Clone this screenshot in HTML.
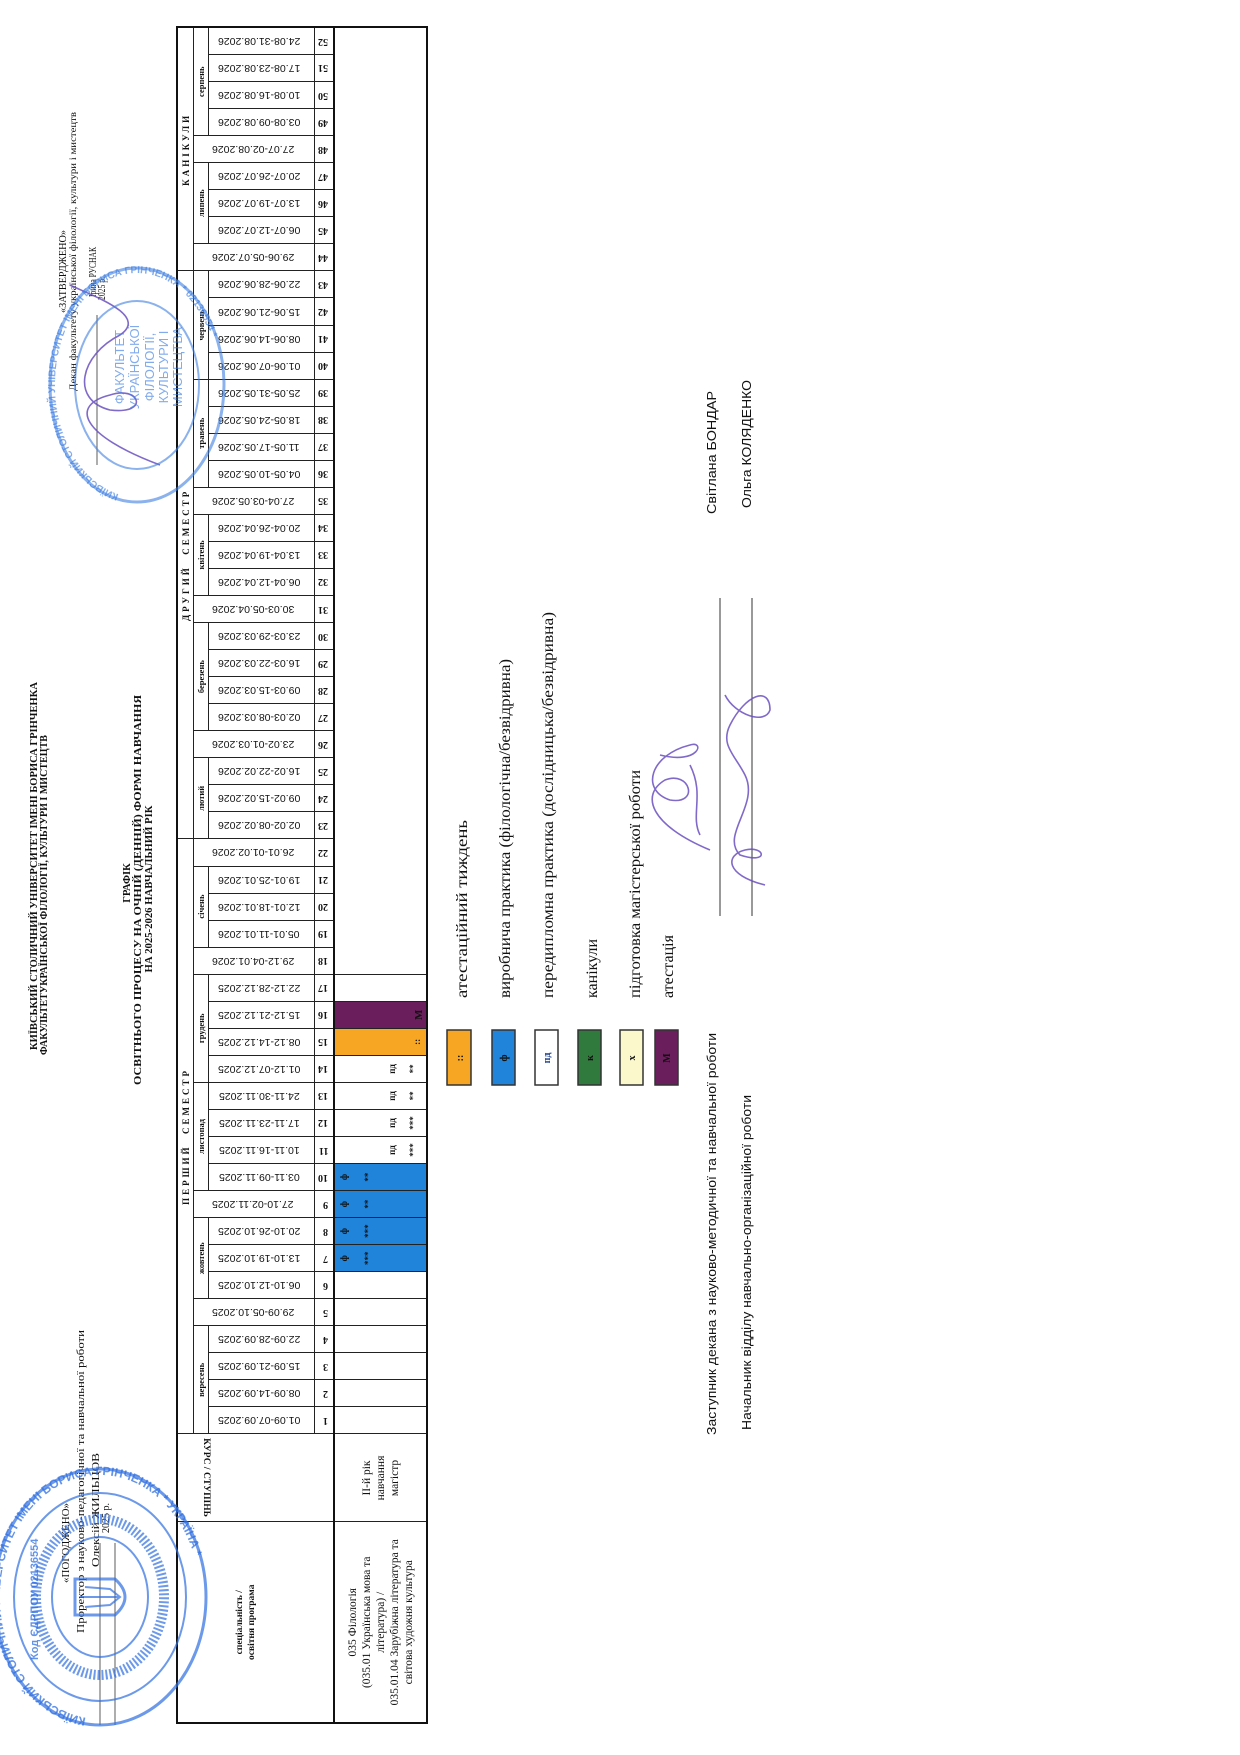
<!DOCTYPE html>
<html><head><meta charset="utf-8">
<style>
html,body{margin:0;padding:0;background:#fff;}
body{width:1240px;height:1755px;overflow:hidden;position:relative;}
#L{position:absolute;left:0;top:0;width:1755px;height:1240px;transform-origin:0 0;transform:translate(0,1755px) rotate(-90deg);}
table{position:absolute;left:31px;top:176px;width:1696px;border-collapse:collapse;table-layout:fixed;border:2px solid #111;font-family:"Liberation Serif",serif;color:#111;}
td{border:1px solid #222;padding:0;text-align:center;vertical-align:middle;overflow:hidden;white-space:nowrap;}
tr.r1 td{height:15px;font-weight:bold;font-size:9px;letter-spacing:3px;}
tr.r2 td{height:14px;font-weight:bold;font-size:8.5px;}
tr.r3 td{height:105px;}
tr.r4 td{height:16px;}
tr.r5 td{height:91px;position:relative;border-top:2px solid #111;}
.v{display:inline-block;writing-mode:vertical-rl;transform:rotate(180deg);font-family:"Liberation Sans",sans-serif;font-size:10.5px;font-weight:normal;letter-spacing:0;}
.n{display:inline-block;writing-mode:vertical-rl;transform:rotate(180deg);font-weight:bold;font-size:10px;}
.b{background:#1f84da;}
.o{background:#f6a623;}
.p{background:#6a1e5c;}
td i{position:absolute;left:0;right:0;font-style:normal;font-size:9px;font-weight:bold;line-height:12px;color:#111;}
.hdr{font-weight:bold;font-size:9.5px;line-height:12px;letter-spacing:0;}
.dat{font-size:11.5px;line-height:14px;}
</style></head>
<body>
<div id="L">
<table>
<colgroup><col style="width:201px"><col style="width:88px">
<col span="52" style="width:27.0577px">
</colgroup>
<tr class="r1">
<td rowspan="4" style="vertical-align:middle"><div class="hdr" style="margin-top:-20px">спеціальність /<br>освітня програма</div></td>
<td rowspan="4" style="vertical-align:top"><div class="hdr" style="transform:rotate(180deg);margin-top:22px">КУРС / СТУПІНЬ</div></td>
<td colspan="22">ПЕРШИЙ &nbsp;СЕМЕСТР</td>
<td colspan="21">ДРУГИЙ &nbsp;СЕМЕСТР</td>
<td colspan="9">КАНІКУЛИ</td>
</tr>
<tr class="r2">
<td colspan="4">вересень</td>
<td rowspan="2"><span class="v">29.09-05.10.2025</span></td>
<td colspan="3">жовтень</td>
<td rowspan="2"><span class="v">27.10-02.11.2025</span></td>
<td colspan="4">листопад</td>
<td colspan="4">грудень</td>
<td rowspan="2"><span class="v">29.12-04.01.2026</span></td>
<td colspan="3">січень</td>
<td rowspan="2"><span class="v">26.01-01.02.2026</span></td>
<td colspan="3">лютий</td>
<td rowspan="2"><span class="v">23.02-01.03.2026</span></td>
<td colspan="4">березень</td>
<td rowspan="2"><span class="v">30.03-05.04.2026</span></td>
<td colspan="3">квітень</td>
<td rowspan="2"><span class="v">27.04-03.05.2026</span></td>
<td colspan="4">травень</td>
<td colspan="4">червень</td>
<td rowspan="2"><span class="v">29.06-05.07.2026</span></td>
<td colspan="3">липень</td>
<td rowspan="2"><span class="v">27.07-02.08.2026</span></td>
<td colspan="4">серпень</td>
</tr>
<tr class="r3">
<td><span class="v">01.09-07.09.2025</span></td>
<td><span class="v">08.09-14.09.2025</span></td>
<td><span class="v">15.09-21.09.2025</span></td>
<td><span class="v">22.09-28.09.2025</span></td>
<td><span class="v">06.10-12.10.2025</span></td>
<td><span class="v">13.10-19.10.2025</span></td>
<td><span class="v">20.10-26.10.2025</span></td>
<td><span class="v">03.11-09.11.2025</span></td>
<td><span class="v">10.11-16.11.2025</span></td>
<td><span class="v">17.11-23.11.2025</span></td>
<td><span class="v">24.11-30.11.2025</span></td>
<td><span class="v">01.12-07.12.2025</span></td>
<td><span class="v">08.12-14.12.2025</span></td>
<td><span class="v">15.12-21.12.2025</span></td>
<td><span class="v">22.12-28.12.2025</span></td>
<td><span class="v">05.01-11.01.2026</span></td>
<td><span class="v">12.01-18.01.2026</span></td>
<td><span class="v">19.01-25.01.2026</span></td>
<td><span class="v">02.02-08.02.2026</span></td>
<td><span class="v">09.02-15.02.2026</span></td>
<td><span class="v">16.02-22.02.2026</span></td>
<td><span class="v">02.03-08.03.2026</span></td>
<td><span class="v">09.03-15.03.2026</span></td>
<td><span class="v">16.03-22.03.2026</span></td>
<td><span class="v">23.03-29.03.2026</span></td>
<td><span class="v">06.04-12.04.2026</span></td>
<td><span class="v">13.04-19.04.2026</span></td>
<td><span class="v">20.04-26.04.2026</span></td>
<td><span class="v">04.05-10.05.2026</span></td>
<td><span class="v">11.05-17.05.2026</span></td>
<td><span class="v">18.05-24.05.2026</span></td>
<td><span class="v">25.05-31.05.2026</span></td>
<td><span class="v">01.06-07.06.2026</span></td>
<td><span class="v">08.06-14.06.2026</span></td>
<td><span class="v">15.06-21.06.2026</span></td>
<td><span class="v">22.06-28.06.2026</span></td>
<td><span class="v">06.07-12.07.2026</span></td>
<td><span class="v">13.07-19.07.2026</span></td>
<td><span class="v">20.07-26.07.2026</span></td>
<td><span class="v">03.08-09.08.2026</span></td>
<td><span class="v">10.08-16.08.2026</span></td>
<td><span class="v">17.08-23.08.2026</span></td>
<td><span class="v">24.08-31.08.2026</span></td>
</tr>
<tr class="r4">
<td><span class="n">1</span></td><td><span class="n">2</span></td><td><span class="n">3</span></td><td><span class="n">4</span></td><td><span class="n">5</span></td><td><span class="n">6</span></td><td><span class="n">7</span></td><td><span class="n">8</span></td><td><span class="n">9</span></td><td><span class="n">10</span></td>
<td><span class="n">11</span></td><td><span class="n">12</span></td><td><span class="n">13</span></td><td><span class="n">14</span></td><td><span class="n">15</span></td><td><span class="n">16</span></td><td><span class="n">17</span></td><td><span class="n">18</span></td><td><span class="n">19</span></td><td><span class="n">20</span></td>
<td><span class="n">21</span></td><td><span class="n">22</span></td><td><span class="n">23</span></td><td><span class="n">24</span></td><td><span class="n">25</span></td><td><span class="n">26</span></td><td><span class="n">27</span></td><td><span class="n">28</span></td><td><span class="n">29</span></td><td><span class="n">30</span></td>
<td><span class="n">31</span></td><td><span class="n">32</span></td><td><span class="n">33</span></td><td><span class="n">34</span></td><td><span class="n">35</span></td><td><span class="n">36</span></td><td><span class="n">37</span></td><td><span class="n">38</span></td><td><span class="n">39</span></td><td><span class="n">40</span></td>
<td><span class="n">41</span></td><td><span class="n">42</span></td><td><span class="n">43</span></td><td><span class="n">44</span></td><td><span class="n">45</span></td><td><span class="n">46</span></td><td><span class="n">47</span></td><td><span class="n">48</span></td><td><span class="n">49</span></td><td><span class="n">50</span></td>
<td><span class="n">51</span></td><td><span class="n">52</span></td>
</tr>
<tr class="r5">
<td><div class="dat">035 Філологія<br>(035.01 Українська мова та<br>література) /<br>035.01.04 Зарубіжна література та<br>світова художня культура</div></td>
<td><div class="dat">ІІ-й рік<br>навчання<br>магістр</div></td>
<td></td><td></td><td></td><td></td><td></td><td></td>
<td class="b"><i style="top:3px">ф</i><i style="top:27px">***</i></td>
<td class="b"><i style="top:3px">ф</i><i style="top:27px">***</i></td>
<td class="b"><i style="top:3px">ф</i><i style="top:27px">**</i></td>
<td class="b"><i style="top:3px">ф</i><i style="top:27px">**</i></td>
<td><i style="top:51px">пд</i><i style="top:72px">***</i></td>
<td><i style="top:51px">пд</i><i style="top:72px">***</i></td>
<td><i style="top:51px">пд</i><i style="top:72px">**</i></td>
<td><i style="top:51px">пд</i><i style="top:72px">**</i></td>
<td class="o"><i style="top:76px">::</i></td>
<td class="p"><i style="top:78px;font-size:11px">М</i></td>
<td></td>
<td colspan="35" style="border-left:1px solid #222"></td>
</tr>
</table>

<svg width="1755" height="1240" style="position:absolute;left:0;top:0" xmlns="http://www.w3.org/2000/svg">
<g font-family="Liberation Serif, serif" fill="#111">
<text x="889" y="37" text-anchor="middle" font-size="10" font-weight="bold" textLength="368" lengthAdjust="spacingAndGlyphs">КИЇВСЬКИЙ  СТОЛИЧНИЙ УНІВЕРСИТЕТ ІМЕНІ  БОРИСА ГРІНЧЕНКА</text>
<text x="860" y="47" text-anchor="middle" font-size="10" font-weight="bold" textLength="320" lengthAdjust="spacingAndGlyphs">ФАКУЛЬТЕТУКРАЇНСЬКОЇ ФІЛОЛОГІЇ, КУЛЬТУРИ І МИСТЕЦТВ</text>
<text x="872" y="130" text-anchor="middle" font-size="10.5" font-weight="bold">ГРАФІК</text>
<text x="865" y="141" text-anchor="middle" font-size="10.5" font-weight="bold" textLength="390" lengthAdjust="spacingAndGlyphs">ОСВІТНЬОГО ПРОЦЕСУ НА ОЧНІЙ (ДЕННІЙ) ФОРМІ НАВЧАННЯ</text>
<text x="866" y="152" text-anchor="middle" font-size="10.5" font-weight="bold" textLength="167" lengthAdjust="spacingAndGlyphs">НА 2025-2026 НАВЧАЛЬНИЙ РІК</text>

<text x="1442" y="66" font-size="10" textLength="83" lengthAdjust="spacingAndGlyphs">«ЗАТВЕРДЖЕНО»</text>
<text x="1364" y="76" font-size="9.5" textLength="279" lengthAdjust="spacingAndGlyphs">Декан факультету української філології, культури і мистецтв</text>
<text x="1458" y="96" font-size="10" textLength="50" lengthAdjust="spacingAndGlyphs">Ірина РУСНАК</text>
<text x="1455" y="105" font-size="10" textLength="23" lengthAdjust="spacingAndGlyphs">2025 р.</text>
<line x1="1290" y1="97" x2="1440" y2="97" stroke="#333" stroke-width="0.8"/>

<text x="172" y="69" font-size="10" textLength="80" lengthAdjust="spacingAndGlyphs">«ПОГОДЖЕНО»</text>
<text x="122" y="84" font-size="10" textLength="303" lengthAdjust="spacingAndGlyphs">Проректор з науково-педагогічної та навчальної роботи</text>
<text x="188" y="99" font-size="10" textLength="114" lengthAdjust="spacingAndGlyphs">Олексій ЖИЛЬЦОВ</text>
<text x="222" y="109" font-size="10" textLength="30" lengthAdjust="spacingAndGlyphs">2025 р.</text>
<line x1="30" y1="100" x2="212" y2="100" stroke="#333" stroke-width="0.8"/>
<line x1="30" y1="115" x2="212" y2="115" stroke="#333" stroke-width="0.8"/>

<g stroke="#333" stroke-width="1.5">
<rect x="670" y="447" width="55" height="24" fill="#f6a623"/>
<rect x="670" y="492" width="55" height="23" fill="#1f84da"/>
<rect x="670" y="535" width="55" height="23" fill="#fff"/>
<rect x="670" y="578" width="55" height="23" fill="#2f7a3c"/>
<rect x="670" y="620" width="55" height="23" fill="#fbf8cc"/>
<rect x="670" y="655" width="55" height="23" fill="#6a1e5c"/>
</g>
<g font-size="10" font-weight="bold" text-anchor="middle">
<text x="697" y="463">::</text>
<text x="697" y="507">ф</text>
<text x="697" y="550" fill="#1a3c8a">пд</text>
<text x="697" y="593">к</text>
<text x="697" y="635">х</text>
<text x="697" y="670">М</text>
</g>
<g font-size="16">
<text x="757" y="467" textLength="178" lengthAdjust="spacingAndGlyphs">атестаційний тиждень</text>
<text x="757" y="510" textLength="339" lengthAdjust="spacingAndGlyphs">виробнича практика (філологічна/безвідривна)</text>
<text x="757" y="553" textLength="386" lengthAdjust="spacingAndGlyphs">передипломна практика (дослідницька/безвідривна)</text>
<text x="757" y="597">канікули</text>
<text x="757" y="640" textLength="228" lengthAdjust="spacingAndGlyphs">підготовка магістерської роботи</text>
<text x="757" y="673">атестація</text>
</g>
</g>

<g font-family="Liberation Sans Narrow, Liberation Sans, sans-serif" font-size="13" fill="#111">
<text x="320" y="716" textLength="402" lengthAdjust="spacingAndGlyphs">Заступник декана з науково-методичної та навчальної роботи</text>
<text x="325" y="751" textLength="335" lengthAdjust="spacingAndGlyphs">Начальник відділу навчально-організаційної роботи</text>
<text x="1241" y="716" textLength="123" lengthAdjust="spacingAndGlyphs">Світлана БОНДАР</text>
<text x="1247" y="751" textLength="128" lengthAdjust="spacingAndGlyphs">Ольга КОЛЯДЕНКО</text>
</g>
<line x1="839" y1="720" x2="1157" y2="720" stroke="#333" stroke-width="1"/>
<line x1="839" y1="752" x2="1157" y2="752" stroke="#333" stroke-width="1"/>

<g fill="none" stroke="#6a50c0" stroke-width="1.6" opacity="0.85">
<path d="M905 710 C930 650 960 640 975 665 C985 690 950 700 955 670 C965 640 1000 650 1010 690 C1015 705 990 700 1000 660 M920 700 C940 690 960 705 990 690"/>
<path d="M870 765 C880 725 900 725 905 745 C910 765 890 770 900 740 C920 720 950 760 980 745 C1000 735 1010 720 1030 730 C1060 745 1070 770 1045 770 C1030 765 1040 735 1060 725"/>
<path d="M1290 160 C1320 80 1350 70 1360 110 C1370 140 1340 150 1345 110 C1355 70 1400 80 1420 120 C1440 150 1460 90 1470 70"/>
</g>

<g fill="none" stroke="#3f7fe2" opacity="0.6">
<ellipse cx="1370" cy="137" rx="117" ry="87" stroke-width="3"/>
<ellipse cx="1370" cy="137" rx="84" ry="62" stroke-width="2"/>
</g>
<defs><path id="ts" d="M1258 137 A112 82 0 1 1 1482 137 A112 82 0 1 1 1258 137"/>
<path id="bs" d="M36 100 A122 100 0 1 1 280 100 A122 100 0 1 1 36 100"/></defs>
<g font-family="Liberation Sans, sans-serif" fill="#3f7fe2" opacity="0.65" font-weight="bold">
<text font-size="10"><textPath href="#ts" startOffset="3%">КИЇВСЬКИЙ СТОЛИЧНИЙ УНІВЕРСИТЕТ ІМЕНІ БОРИСА ГРІНЧЕНКА * 02136554 *</textPath></text>
<g font-size="13" text-anchor="middle" font-weight="normal">
<text x="1388" y="124">ФАКУЛЬТЕТ</text>
<text x="1388" y="139">УКРАЇНСЬКОЇ</text>
<text x="1388" y="154">ФІЛОЛОГІЇ,</text>
<text x="1388" y="168">КУЛЬТУРИ І</text>
<text x="1388" y="182">МИСТЕЦТВА</text>
</g>
</g>

<g fill="none" stroke="#2f6fe0" opacity="0.7">
<ellipse cx="158" cy="100" rx="128" ry="106" stroke-width="3"/>
<ellipse cx="158" cy="100" rx="104" ry="86" stroke-width="2"/>
<ellipse cx="158" cy="100" rx="78" ry="64" stroke-width="10" stroke-dasharray="2 2"/>
<ellipse cx="158" cy="100" rx="60" ry="48" stroke-width="2"/>
<path d="M140 75 L176 75 L176 115 Q158 135 140 115 Z" stroke-width="3"/>
<path d="M158 80 L158 120 M148 85 L150 110 L158 120 L166 110 L168 85" stroke-width="2"/>
</g>
<g font-family="Liberation Sans, sans-serif" fill="#2f6fe0" opacity="0.75" font-weight="bold">
<text font-size="12"><textPath href="#bs" startOffset="2%">КИЇВСЬКИЙ СТОЛИЧНИЙ УНІВЕРСИТЕТ ІМЕНІ БОРИСА ГРІНЧЕНКА * УКРАЇНА *</textPath></text>
<text x="95" y="38" font-size="11">Код ЄДРПОУ 02136554</text>
</g>
</svg>
</div>
</body></html>
